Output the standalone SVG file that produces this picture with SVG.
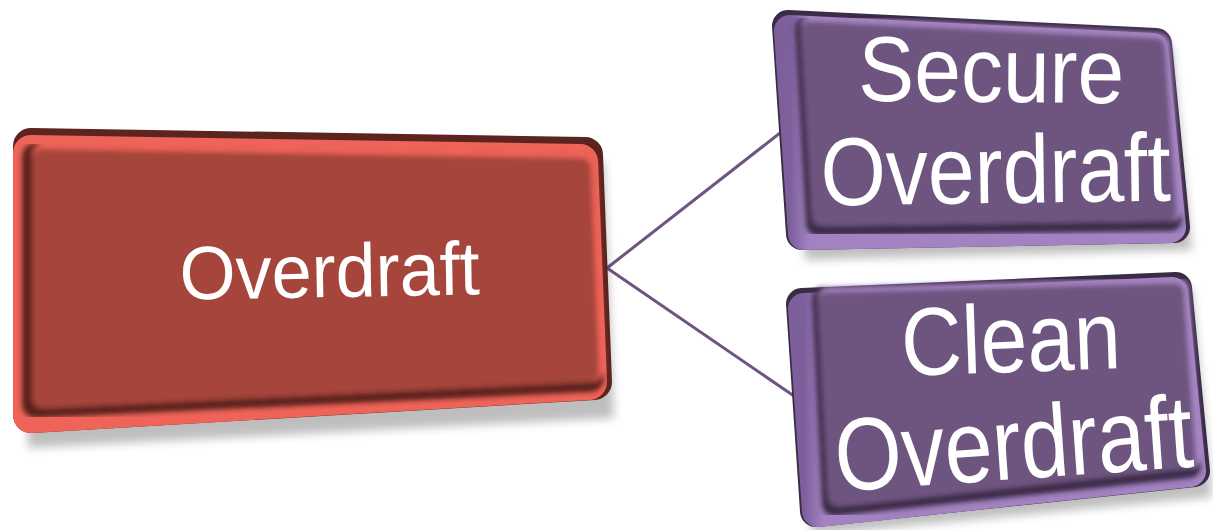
<svg xmlns="http://www.w3.org/2000/svg" width="1213" height="530" viewBox="0 0 1213 530">
  <defs>
    <filter id="soft" x="-10%" y="-10%" width="120%" height="130%">
      <feGaussianBlur stdDeviation="5"/>
    </filter>
    <filter id="bevelBlur" x="-5%" y="-5%" width="110%" height="110%">
      <feGaussianBlur stdDeviation="2.5"/>
    </filter>
    <linearGradient id="purpleSide" x1="0" y1="0" x2="1" y2="0">
      <stop offset="0" stop-color="#7d5f9c"/>
      <stop offset="0.05" stop-color="#a282c0"/>
      <stop offset="1" stop-color="#a282c0"/>
    </linearGradient>
  </defs>
  <style>
    .shadow { fill: #000; opacity: 0.25; filter: url(#soft); }
    .rnd { stroke-linejoin: round; }
    .red-dark { fill: #5c241f; stroke: #5c241f; }
    .red-rim { fill: #ef6459; stroke: #ef6459; }
    .red-face { fill: #a5443a; stroke: #a5443a; }
    .pur-dark { fill: #3a2c46; stroke: #3a2c46; }
    .pur-rim { fill: url(#purpleSide); stroke: url(#purpleSide); }
    .pur-light { fill: #a987c7; stroke: #a987c7; }
    .pur-face { fill: #6e5480; stroke: #6e5480; }
    .inner { filter: url(#bevelBlur); }
    .label { fill: #ffffff; font-family: "Liberation Sans", Arial, sans-serif; text-anchor: middle; }
    .link { stroke: #6e5480; stroke-width: 3; fill: none; }
  </style>

  <!-- connectors -->
  <g id="connectors">
    <line class="link" x1="607" y1="268" x2="780" y2="133"/>
    <line class="link" x1="607" y1="268" x2="794" y2="396"/>
  </g>

  <!-- root node -->
  <g id="node-overdraft">
    <polygon class="shadow" points="24,150 604,162 614,418 28,448"/>
    <polygon class="red-dark rnd" stroke-width="36" points="31,146 585,155 594,382 31,415"/>
    <polygon class="red-rim rnd" stroke-width="36" points="31,153 580,162 589,382 31,415"/>
    <g class="inner">
      <polygon class="red-dark rnd" stroke-width="28" points="36,157 582,166 590,378 36,404"/>
      <polygon class="red-rim rnd" stroke-width="28" points="46,157 582,166 590,368 46,394"/>
      <polygon class="red-face rnd" stroke-width="20" points="42,159 581,168 589,372 42,398"/>
    </g>
    <text class="label" font-size="72" transform="translate(330,297) rotate(-1) scale(1,1.05)">Overdraft</text>
  </g>

  <!-- child node: secure -->
  <g id="node-secure">
    <polygon class="shadow" points="790,30 1172,46 1192,250 805,260"/>
    <polygon class="pur-dark rnd" stroke-width="32" points="788,26 1156,44 1174,227 802,234"/>
    <polygon class="pur-rim rnd" stroke-width="32" points="790,31 1152,49 1170,227 804,234"/>
    <g class="inner">
      <polygon class="pur-dark rnd" stroke-width="24" points="807,28 1158,45 1170,219 818,224"/>
      <polygon class="pur-light rnd" stroke-width="24" points="813,28 1158,45 1170,209 824,214"/>
      <polygon class="pur-face rnd" stroke-width="18" points="810,30 1156,47 1168,212 821,217"/>
    </g>
    <text class="label" font-size="84" transform="translate(991,102) rotate(0.5) scale(1,1.1)">Secure</text>
    <text class="label" font-size="84" transform="translate(996,203) rotate(-0.8) scale(1,1.15)">Overdraft</text>
  </g>

  <!-- child node: clean -->
  <g id="node-clean">
    <polygon class="shadow" points="800,300 1192,288 1212,497 812,535"/>
    <polygon class="pur-dark rnd" stroke-width="32" points="802,304 1176,288 1194,471 816,511"/>
    <polygon class="pur-rim rnd" stroke-width="32" points="804,309 1172,293 1190,471 818,511"/>
    <g class="inner">
      <polygon class="pur-dark rnd" stroke-width="24" points="824,299 1177,290 1189,466 834,504"/>
      <polygon class="pur-light rnd" stroke-width="24" points="830,299 1177,290 1189,456 840,494"/>
      <polygon class="pur-face rnd" stroke-width="18" points="827,301 1175,292 1187,459 837,497"/>
    </g>
    <text class="label" font-size="84" transform="translate(1012,372) rotate(-2) scale(1,1.15)">Clean</text>
    <text class="label" font-size="86" transform="translate(1016,479) rotate(-4) scale(1,1.2)">Overdraft</text>
  </g>
</svg>
